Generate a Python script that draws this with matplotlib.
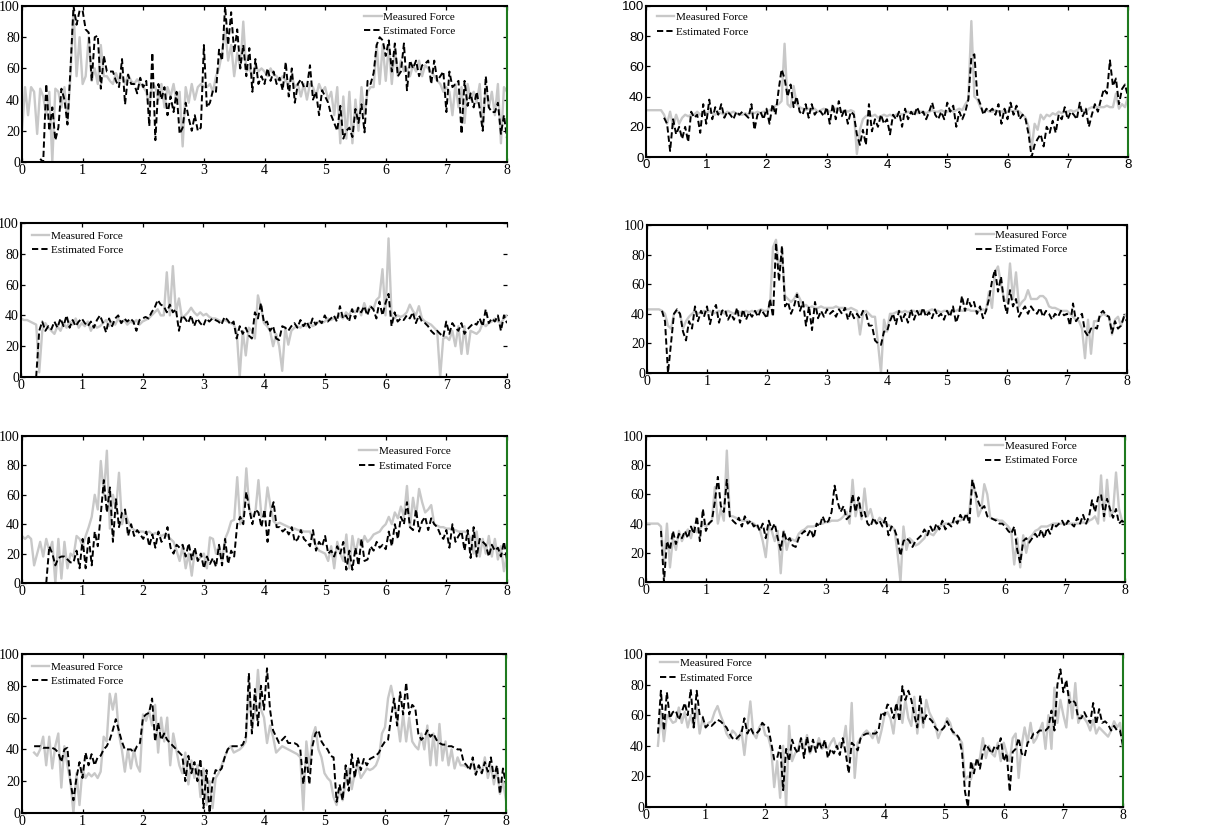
import numpy as np
import matplotlib
matplotlib.use("Agg")
import matplotlib.pyplot as plt

STEP = 0.05
LABELS = ["Measured Force", "Estimated Force"]
X_TICKS = [0, 1, 2, 3, 4, 5, 6, 7, 8]
Y_TICKS = [0, 20, 40, 60, 80, 100]

# ---------------- panel 1 ----------------
m1_start = 0.0
m1 = [20,48,30,48,45,18,47,42,30,45,0,47,45,35,48,25,55,98,55,80,
      50,55,80,52,60,50,75,55,55,52,50,57,52,55,50,56,52,50,53,50,
      48,45,36,50,48,40,50,35,48,42,50,38,45,10,48,38,50,40,48,50,
      48,48,50,45,55,60,70,85,65,75,55,70,60,90,58,60,55,62,58,60,
      58,55,60,56,55,52,55,52,50,55,48,50,42,50,40,50,48,42,50,45,
      48,40,45,30,48,12,42,15,45,12,40,20,48,30,45,48,48,75,50,75,
      52,75,50,72,55,65,58,60,55,62,58,65,55,62,60,58,55,52,50,45,
      48,45,30,50,35,48,25,50,40,45,38,50,22,48,35,45,30,50,12,48,
      45]
e1_start = 0.30
e1 = [2,0,50,20,35,14,22,47,40,24,60,100,88,97,
      97,85,83,52,80,81,47,68,58,58,58,52,48,66,37,56,50,50,44,54,
      48,52,23,70,14,50,40,48,30,42,32,45,18,22,38,28,20,30,20,22,
      75,35,38,46,45,72,65,100,75,96,70,85,60,75,55,73,45,66,50,55,
      50,60,52,58,50,54,46,64,42,60,38,50,53,48,48,62,40,45,30,46,
      42,38,30,25,20,36,15,20,22,16,34,25,37,19,52,50,57,75,80,78,
      68,78,58,76,55,58,76,46,65,60,65,55,62,63,65,50,65,52,55,58,
      32,58,48,50,52,18,52,36,44,35,45,34,20,55,35,32,32,38,18,30,
      15]

# ---------------- panel 2 ----------------
m2_start = 0.0
m2 = [31,31,31,31,31,31,28,22,30,20,28,22,26,28,27,28,28,30,28,29,
      29,30,29,28,30,29,28,30,29,30,29,28,28,29,28,30,29,30,29,30,
      30,31,32,34,35,37,75,35,33,47,35,33,32,31,32,31,32,30,31,32,
      31,30,31,32,31,30,31,30,31,30,2,18,25,27,28,27,28,26,27,28,
      27,28,27,28,29,28,29,30,29,30,29,30,30,29,30,31,30,30,31,30,
      30,31,30,31,32,31,35,38,90,40,38,33,30,31,30,30,31,30,30,31,
      30,31,30,31,30,28,26,20,5,22,18,28,25,28,27,29,28,30,29,30,
      30,31,30,31,32,31,30,32,33,33,33,33,33,34,33,33,42,32,35,33,
      40]
e2_start = 0.30
e2 = [26,22,4,25,15,20,12,20,10,30,26,28,16,35,
      22,38,25,33,28,35,26,30,28,25,30,28,30,28,26,35,18,28,30,25,
      32,22,35,28,44,58,52,40,48,33,40,30,28,35,26,35,28,31,30,27,
      33,22,35,25,37,27,32,22,30,28,15,8,18,8,35,17,25,20,28,22,
      25,15,28,25,30,20,32,25,30,27,33,28,30,25,30,36,28,25,30,25,
      36,30,34,20,30,25,30,38,66,68,40,35,28,32,30,32,28,35,22,32,
      25,36,28,34,25,28,25,15,0,8,12,15,7,20,16,24,16,28,25,33,
      25,30,28,25,36,27,32,20,28,35,30,38,45,42,64,47,52,35,45,48,
      40]

# ---------------- panel 3 ----------------
m3_start = 0.0
m3 = [38,37,37,36,35,34,3,30,35,32,30,28,33,30,35,32,36,34,38,32,
      35,33,36,30,34,32,33,35,37,33,36,34,38,35,37,34,36,35,37,34,
      36,37,38,40,42,44,40,40,68,40,72,42,51,38,40,42,45,42,40,42,
      40,41,39,38,38,37,36,37,36,35,34,30,0,30,14,32,30,25,53,45,
      35,33,30,20,28,20,4,32,21,30,32,33,32,34,33,35,33,34,36,35,
      36,38,37,38,39,40,38,42,40,44,42,45,40,48,42,46,44,50,52,70,
      40,90,40,38,40,39,40,42,47,43,40,46,38,36,35,34,32,30,0,25,
      26,24,30,20,33,15,33,15,30,29,28,30,35,33,35,36,38,36,35,38,
      40]
e3_start = 0.25
e3 = [0,30,36,30,33,31,36,32,38,33,40,32,37,33,36,
      38,35,33,36,32,37,40,35,29,38,33,38,40,35,38,36,38,36,30,37,
      38,39,38,42,45,50,47,46,42,47,42,44,30,40,38,35,40,33,38,35,
      33,38,36,38,37,36,34,39,37,34,36,25,33,28,32,27,25,42,38,48,
      35,36,30,33,25,24,33,32,30,33,35,32,37,33,36,32,38,34,37,35,
      40,36,38,40,36,46,38,40,36,44,38,45,42,46,40,46,44,38,49,40,
      48,54,33,42,36,38,37,40,38,42,35,40,36,35,33,30,28,30,28,26,
      36,28,35,32,30,35,28,31,33,35,34,38,33,44,35,38,36,40,30,40,
      35]

# ---------------- panel 4 ----------------
m4_start = 0.0
m4 = [43,43,43,43,43,42,40,32,30,40,42,40,30,35,38,40,42,40,41,42,
      41,42,40,41,42,41,40,42,41,40,42,41,40,42,41,42,41,42,43,42,
      42,45,85,90,70,80,52,50,48,50,54,50,45,46,44,45,44,44,45,44,
      44,44,44,45,44,44,44,43,44,43,42,26,40,42,40,38,38,20,0,36,
      28,40,40,41,42,41,42,41,42,42,41,42,42,41,42,43,42,42,41,42,
      42,41,42,42,43,42,42,43,42,42,42,42,43,42,55,44,68,72,60,50,
      48,74,50,68,45,48,50,56,50,50,50,52,52,50,45,44,44,43,42,42,
      42,40,38,36,35,30,10,36,13,35,35,38,40,39,38,26,36,38,32,38,
      40]
e4_start = 0.25
e4 = [42,35,0,20,40,43,40,28,22,35,30,45,35,42,38,
      45,33,42,46,34,42,43,36,40,36,44,34,43,36,41,38,42,38,43,40,
      37,50,38,88,62,86,45,48,40,45,53,42,48,32,45,29,48,37,42,38,
      43,40,42,38,43,40,44,36,42,37,40,37,42,40,32,32,22,20,19,28,
      28,35,40,33,42,35,40,34,43,36,42,38,44,38,41,37,43,38,40,36,
      42,38,45,34,40,52,42,50,45,48,40,45,37,42,50,62,70,55,65,48,
      40,56,45,50,38,42,45,40,45,42,40,44,38,42,40,36,40,38,42,39,
      40,32,47,35,38,40,28,25,30,31,30,40,42,39,38,27,35,30,32,38,
      35]

# ---------------- panel 5 ----------------
m5_start = 0.0
m5 = [32,30,32,30,12,20,28,18,30,22,28,0,30,3,28,10,20,18,32,30,
      25,32,38,45,60,50,83,60,90,37,60,50,75,40,48,42,38,36,35,35,
      35,34,35,33,34,33,32,33,32,30,28,22,15,25,10,20,5,22,15,18,
      20,10,31,30,20,25,15,30,35,42,43,72,40,45,78,50,45,48,70,45,
      45,65,52,42,40,41,40,39,38,37,37,36,36,35,35,35,30,25,22,21,
      20,15,25,10,28,20,15,33,10,32,20,30,25,32,28,30,33,34,35,38,
      40,45,40,48,44,52,45,66,38,58,45,64,55,48,50,53,40,39,38,38,
      37,37,36,36,35,35,35,34,30,20,35,18,30,20,32,18,30,16,25,8,
      20]
e5_start = 0.40
e5 = [0,25,20,12,17,18,18,16,14,14,22,10,
      30,10,32,12,35,25,47,70,48,65,28,57,38,48,50,32,40,32,36,33,
      30,35,25,33,24,35,28,30,38,24,20,26,24,26,18,27,16,24,15,20,
      10,18,13,17,11,26,12,30,13,22,18,40,45,40,62,50,40,50,48,38,
      50,28,48,55,38,38,35,37,33,38,28,30,36,30,28,25,36,22,28,25,
      32,20,22,18,25,20,28,9,22,9,24,12,30,15,16,25,22,28,24,26,
      23,35,25,40,30,45,40,55,38,36,50,35,42,45,36,44,40,38,33,30,
      36,24,40,28,32,35,22,36,17,38,18,30,28,26,18,26,22,24,18,28,
      16]

# ---------------- panel 6 ----------------
m6_start = 0.0
m6 = [40,40,40,40,40,38,12,40,10,30,22,35,28,33,36,30,38,34,36,40,
      38,40,42,65,40,50,42,90,45,45,44,43,42,42,42,41,40,38,36,28,
      17,38,35,28,35,6,35,22,30,29,28,33,35,36,38,38,38,39,40,40,
      41,41,42,42,42,43,45,48,40,70,45,55,43,64,45,50,42,40,44,42,
      40,39,38,36,20,0,38,22,30,28,25,26,28,30,35,33,32,35,38,39,
      40,40,40,41,42,42,44,45,48,70,60,45,50,67,60,44,43,43,42,42,
      40,38,35,12,30,10,32,20,30,32,35,36,38,38,38,39,40,40,40,40,
      40,40,40,40,40,40,41,40,42,43,45,40,73,42,70,45,48,75,50,42,
      40]
e6_start = 0.25
e6 = [35,0,28,22,35,26,33,30,35,30,38,33,45,28,50,
      35,40,42,55,72,52,48,70,45,42,40,44,38,45,40,42,38,40,35,40,
      30,42,36,40,30,22,35,28,30,25,24,30,33,35,32,36,30,40,38,45,
      40,42,48,66,55,48,52,43,45,60,48,58,45,48,40,38,44,40,42,38,
      44,32,38,36,30,18,28,30,28,24,28,30,32,36,32,38,34,40,36,42,
      36,40,38,44,40,46,42,47,40,70,62,55,50,52,45,44,43,42,40,40,
      38,35,33,38,22,13,28,30,27,30,33,30,36,30,37,33,40,38,40,42,
      38,42,40,38,44,40,46,40,45,56,48,58,60,45,57,50,44,50,40,42,
      40]

# ---------------- panel 7 ----------------
m7_start = 0.20
m7 = [38,36,40,48,30,48,28,42,50,16,42,30,20,0,25,5,
      28,22,25,23,25,22,26,48,45,75,65,75,50,40,26,40,28,40,30,26,
      62,58,64,55,68,38,60,45,60,30,50,40,30,25,38,18,33,22,30,10,
      28,5,20,3,22,25,30,35,40,42,38,39,40,42,45,80,55,62,90,65,
      60,44,55,48,38,40,42,41,40,39,38,37,35,2,45,28,48,54,40,35,
      25,22,20,10,5,15,8,20,28,15,25,30,22,25,28,27,28,30,35,50,
      54,72,80,70,60,45,62,45,60,45,42,40,50,40,55,30,50,30,56,33,
      45,30,40,28,35,30,30,29,28,32,25,30,25,35,22,30,18,28,12,20,
      8]
e7_start = 0.20
e7 = [42,42,42,41,41,41,41,40,38,32,40,41,20,8,22,32,
      22,38,30,37,30,35,36,40,42,46,52,59,52,45,40,40,40,38,42,44,
      60,62,63,72,45,57,46,50,46,44,42,40,38,36,20,36,25,32,20,34,
      3,27,0,20,27,26,28,35,40,42,42,42,42,43,48,88,50,78,55,80,
      65,91,65,52,48,44,46,48,44,44,44,43,40,18,36,18,42,50,52,45,
      42,40,36,35,7,18,8,30,14,37,22,35,27,34,30,34,35,36,38,42,
      45,46,60,72,55,76,62,82,62,68,66,50,46,48,52,48,50,46,44,43,
      43,42,42,41,40,40,32,30,27,35,24,30,25,32,26,35,22,30,12,28,
      18]

# ---------------- panel 8 ----------------
m8_start = 0.20
m8 = [40,62,43,60,58,55,56,65,55,62,52,60,52,65,48,58,
      52,55,56,62,66,60,55,48,45,50,48,44,50,34,52,69,48,45,52,55,
      47,46,38,13,30,6,40,0,53,30,35,38,45,38,47,35,40,38,45,38,
      40,38,42,45,38,42,40,53,30,68,19,42,45,48,50,48,45,50,42,50,
      60,62,58,48,65,72,55,70,58,53,72,48,65,52,70,62,58,54,45,50,
      52,58,55,48,47,45,42,18,20,18,28,28,32,45,32,40,35,33,42,30,
      42,35,30,45,48,19,40,52,42,55,42,45,50,55,38,60,38,78,55,70,
      60,52,75,58,81,55,60,58,55,50,57,48,52,50,48,46,50,56,52,55,
      38]
e8_start = 0.20
e8 = [48,76,50,75,58,62,63,57,62,68,60,77,52,76,60,59,
      52,54,53,55,57,56,54,52,48,45,44,46,48,58,48,52,48,48,50,55,
      53,52,42,31,32,40,11,38,30,44,38,35,45,32,46,35,44,36,43,38,
      44,32,38,35,40,34,45,35,22,42,40,37,45,47,48,48,48,48,50,62,
      60,67,66,58,68,56,79,70,76,70,60,52,73,55,60,58,56,52,50,50,
      52,56,52,49,48,45,36,10,0,30,22,32,25,36,41,38,35,40,38,45,
      30,35,10,36,38,45,35,33,42,44,48,48,50,50,50,52,63,50,80,90,
      75,83,68,70,68,58,58,62,58,55,68,54,64,55,56,54,50,53,50,50,
      40]

panels = [
    (m1_start, m1, e1_start, e1),
    (m2_start, m2, e2_start, e2),
    (m3_start, m3, e3_start, e3),
    (m4_start, m4, e4_start, e4),
    (m5_start, m5, e5_start, e5),
    (m6_start, m6, e6_start, e6),
    (m7_start, m7, e7_start, e7),
    (m8_start, m8, e8_start, e8),
]

# layout (figure pixels: left, right, top, bottom)
W, H = 1230, 831
boxes = [
    (22, 507, 6, 162), (646, 1128, 6, 157),
    (21, 507, 223, 377), (647, 1127, 225, 373),
    (22, 507, 436, 583), (646, 1125, 436, 582),
    (22, 506, 654, 813), (646, 1123, 654, 807),
]
legend_anchor = [(0.705, 0.962), (0.022, 0.958), (0.022, 0.948), (0.685, 0.965),
                 (0.695, 0.93), (0.708, 0.964), (0.020, 0.95), (0.030, 0.972)]
right_color = ['#1f7a1f', '#1f7a1f', None, 'black', '#1f7a1f', '#1f7a1f', '#1f7a1f', '#1f7a1f']
tick_font = ['Liberation Serif', 'Liberation Sans', 'Liberation Serif', 'Liberation Serif',
             'Liberation Serif', 'Liberation Serif', 'Liberation Serif', 'Liberation Serif']

fig = plt.figure(figsize=(W / 100, H / 100), dpi=100)
for i, (ms, mv, es, ev) in enumerate(panels):
    l, r, t, b = boxes[i]
    ax = fig.add_axes([l / W, 1 - b / H, (r - l) / W, (b - t) / H])
    xm = ms + STEP * np.arange(len(mv))
    xe = es + STEP * np.arange(len(ev))
    ax.plot(xm, mv, color='#c8c8c8', lw=1.7, label=LABELS[0])
    ax.plot(xe, ev, color='black', lw=1.4, ls=(0, (3.2, 1.6)), label=LABELS[1])
    ax.set_xlim(0, 8)
    ax.set_ylim(0, 100)
    ax.set_xticks(X_TICKS)
    ax.set_yticks(Y_TICKS)
    ax.tick_params(direction='in', top=True, right=True, length=3.2, width=0.9,
                   labelsize=10 if i != 1 else 9.5, pad=1.5)
    for lab in ax.get_xticklabels() + ax.get_yticklabels():
        lab.set_fontfamily(tick_font[i])
    for s in ['left', 'top', 'bottom']:
        ax.spines[s].set_linewidth(1.5)
        ax.spines[s].set_color('black')
    if right_color[i] is None:
        ax.spines['right'].set_visible(False)
    else:
        ax.spines['right'].set_linewidth(1.5)
        ax.spines['right'].set_color(right_color[i])
    ax.legend(loc='upper left', bbox_to_anchor=legend_anchor[i], frameon=False,
              prop={'family': 'Liberation Serif', 'size': 8}, handlelength=1.6,
              handletextpad=0.15, labelspacing=0.42, borderpad=0, borderaxespad=0)

fig.savefig('out.png', dpi=100)
